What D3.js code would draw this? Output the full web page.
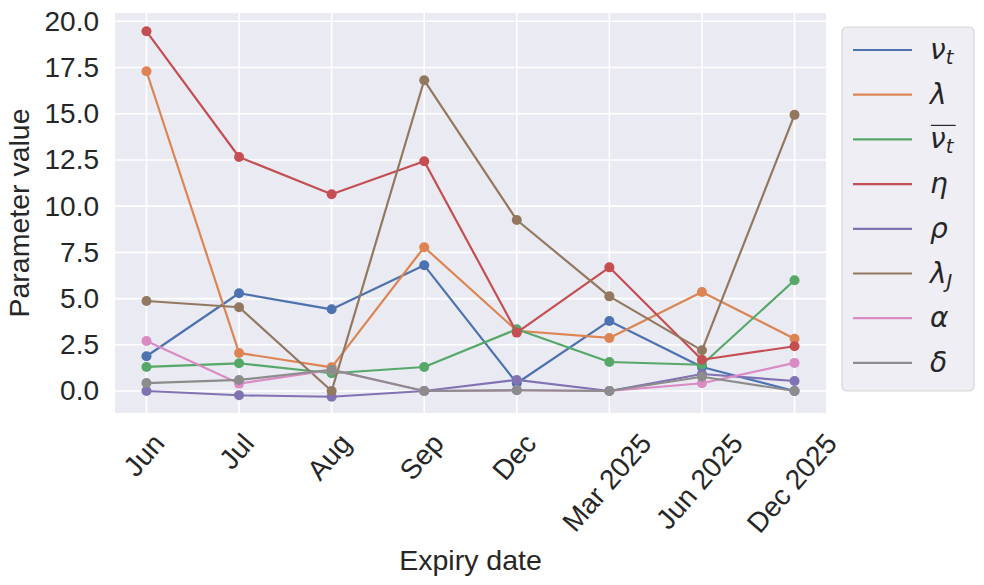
<!DOCTYPE html>
<html><head><meta charset="utf-8">
<script src="https://cdn.jsdelivr.net/npm/d3@7"></script>
<style>body{margin:0;background:#fff;} svg{display:block;}</style>
</head><body>
<svg id="c" width="984" height="585"></svg>
<script>
const categories = ["Jun","Jul","Aug","Sep","Dec","Mar 2025","Jun 2025","Dec 2025"];
const nuT     = [1.88, 5.29, 4.42, 6.80, 0.42, 3.79, 1.30, 0.00];
const lam     = [17.30, 2.06, 1.28, 7.78, 3.26, 2.87, 5.36, 2.83];
const nuBar   = [1.30, 1.50, 0.96, 1.30, 3.34, 1.57, 1.42, 5.99];
const eta     = [19.46, 12.66, 10.64, 12.43, 3.16, 6.69, 1.69, 2.42];
const rho     = [0.00, -0.23, -0.31, 0.00, 0.60, 0.00, 0.92, 0.54];
const lamJ    = [4.87, 4.53, 0.00, 16.81, 9.25, 5.12, 2.20, 14.94];
const alphaV  = [2.71, 0.40, 1.14, 0.00, 0.04, 0.00, 0.42, 1.52];
const deltaV  = [0.43, 0.60, 1.15, 0.00, 0.04, 0.00, 0.77, 0.00];
const yTicks  = [0, 2.5, 5, 7.5, 10, 12.5, 15, 17.5, 20];
const seriesNames = ["nu_t","lambda","nubar_t","eta","rho","lambda_J","alpha","delta"];
const seriesValues = [nuT, lam, nuBar, eta, rho, lamJ, alphaV, deltaV];
const colors = ["#4C72B0","#DD8452","#55A868","#C44E52","#8172B3","#937860","#DA8BC3","#8C8C8C"];

const svg = d3.select("#c");
const L = 115, R = 826, T = 13, B = 413;
const x = d3.scaleLinear().domain([-0.34, 7.34]).range([L, R]);
const y = d3.scaleLinear().domain([-1.19, 20.45]).range([B, T]);

svg.append("rect").attr("x", L).attr("y", T).attr("width", R-L).attr("height", B-T).attr("fill", "#EAEAF2");

// grid
const g = svg.append("g");
g.selectAll(".hg").data(yTicks).enter().append("line")
  .attr("x1", L).attr("x2", R).attr("y1", d=>y(d)).attr("y2", d=>y(d))
  .attr("stroke", "#fff").attr("stroke-width", 1.6);
g.selectAll(".vg").data(categories).enter().append("line")
  .attr("y1", T).attr("y2", B).attr("x1", (d,i)=>x(i)).attr("x2", (d,i)=>x(i))
  .attr("stroke", "#fff").attr("stroke-width", 1.6);

const FONT = "'Liberation Sans', Arial, sans-serif";
const TS = 28;
// y axis
const yAxis = d3.axisLeft(y).tickValues(yTicks).tickFormat(d3.format(".1f")).tickSize(0).tickPadding(16);
const ya = svg.append("g").attr("transform", `translate(${L},0)`).call(yAxis);
ya.select(".domain").remove();
ya.selectAll("text").attr("font-family", FONT).attr("font-size", TS).attr("fill", "#262626");

// x ticks rotated
const ANG = 49 * Math.PI / 180;
const xt = svg.append("g");
categories.forEach((c,i)=>{
  const t = xt.append("text").text(c).attr("font-family", FONT).attr("font-size", TS)
    .attr("fill", "#262626").attr("text-anchor","middle").attr("dominant-baseline","central");
  const w = t.node().getComputedTextLength();
  const h = TS*0.72;
  const cy = B + 18.5 + (w*Math.sin(ANG) + h*Math.cos(ANG))/2;
  t.attr("transform", `translate(${x(i)-2.5},${cy}) rotate(-49)`);
});

svg.append("text").text("Expiry date").attr("x", (L+R)/2).attr("y", 570)
  .attr("text-anchor","middle").attr("font-family", FONT).attr("font-size", 28.5).attr("fill","#262626");
svg.append("text").text("Parameter value").attr("transform", `translate(29,${(T+B)/2}) rotate(-90)`)
  .attr("text-anchor","middle").attr("font-family", FONT).attr("font-size", 28.5).attr("fill","#262626");

// series
const line = d3.line().x((d,i)=>x(i)).y(d=>y(d));
seriesValues.forEach((vals, k)=>{
  const sg = svg.append("g");
  sg.append("path").attr("d", line(vals)).attr("fill","none").attr("stroke", colors[k]).attr("stroke-width", 2.2)
    .attr("stroke-linejoin","round").attr("stroke-linecap","round");
  sg.selectAll("circle").data(vals).enter().append("circle")
    .attr("cx", (d,i)=>x(i)).attr("cy", d=>y(d)).attr("r", 5).attr("fill", colors[k]);
});

// legend
const lg = svg.append("g");
lg.append("rect").attr("x", 842).attr("y", 27).attr("width", 132).attr("height", 364).attr("rx", 5)
  .attr("fill", "#EEEEF4").attr("stroke", "#D6D6D6").attr("stroke-width", 1.2);
const MF = "'DejaVu Sans', sans-serif";
seriesNames.forEach((nm, k)=>{
  const cy = 50 + k*44.7;
  lg.append("line").attr("x1", 853).attr("x2", 912).attr("y1", cy).attr("y2", cy)
    .attr("stroke", colors[k]).attr("stroke-width", 2.2);
  const t = lg.append("text").attr("x", 930).attr("y", cy + 9).attr("font-family", MF)
    .attr("font-style","italic").attr("font-size", 28).attr("fill", "#262626");
  if (nm === "nu_t" || nm === "nubar_t") {
    t.append("tspan").text("ν");
    t.append("tspan").text("t").attr("font-size", 19.5).attr("dy", 5);
    if (nm === "nubar_t") {
      const bb = t.node().getBBox();
      lg.append("line").attr("x1", bb.x+1).attr("x2", bb.x + bb.width + 1).attr("y1", cy-14).attr("y2", cy-14)
        .attr("stroke", "#262626").attr("stroke-width", 1.2);
    }
  } else if (nm === "lambda") t.text("λ");
  else if (nm === "eta") t.text("η");
  else if (nm === "rho") t.text("ρ");
  else if (nm === "lambda_J") { t.append("tspan").text("λ"); t.append("tspan").text("J").attr("font-size", 19.5).attr("dy", 5); }
  else if (nm === "alpha") t.text("α");
  else if (nm === "delta") t.text("δ");
});
</script>
</body></html>
